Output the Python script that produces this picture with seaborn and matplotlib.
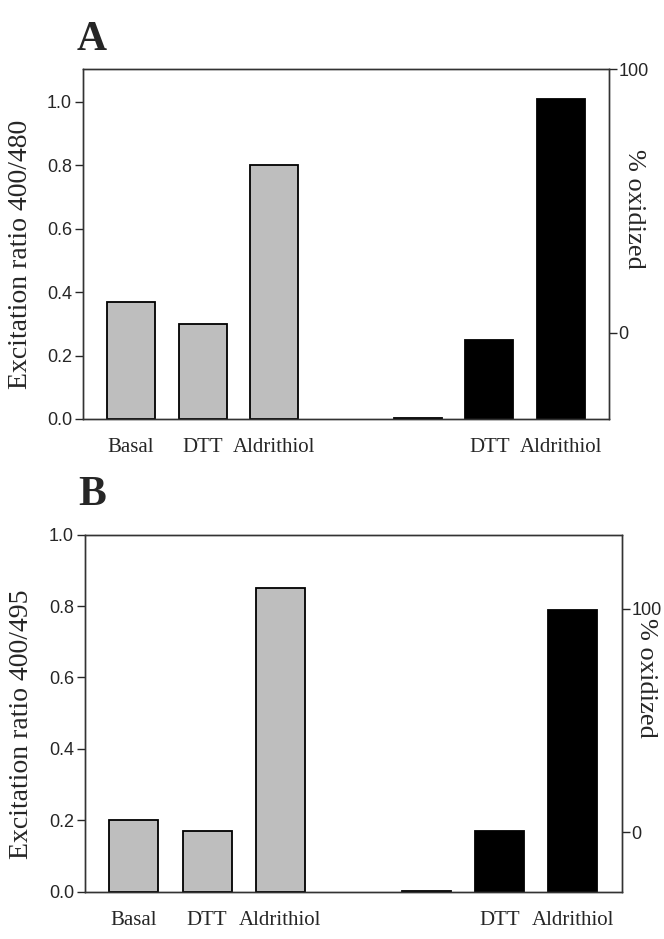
import numpy as np
import pandas as pd
import matplotlib
matplotlib.use("Agg")
import matplotlib.pyplot as plt
import seaborn as sns

# slots along the x axis (one empty gap between the two groups)
slots = ["g_basal", "g_dtt", "g_ald", "gap", "k_zero", "k_dtt", "k_ald"]
slot_labels = ["Basal", "DTT", "Aldrithiol", "", "", "DTT", "Aldrithiol"]
gray_slots = ["g_basal", "g_dtt", "g_ald"]
black_slots = ["k_zero", "k_dtt", "k_ald"]

# panel A values (excitation ratio 400/480)
a_gray = [0.37, 0.30, 0.80]
a_black = [0.004, 0.25, 1.01]
# panel B values (excitation ratio 400/495)
b_gray = [0.20, 0.17, 0.85]
b_black = [0.003, 0.17, 0.79]

sns.set_style("ticks")
plt.rcParams["font.family"] = ["Liberation Serif", "DejaVu Serif"]

fig = plt.figure(figsize=(6.64, 9.39), dpi=100)

def make_df(gray, black):
    return pd.DataFrame({
        "slot": gray_slots + black_slots,
        "value": gray + black,
        "group": ["gray"] * 3 + ["black"] * 3,
    })

def draw_panel(rect, gray, black, ylim, yticks, ylabel, rlim, ylab_x, rlab_x, rlab_y):
    ax = fig.add_axes(rect)
    df = make_df(gray, black)
    sns.barplot(data=df, x="slot", y="value", hue="group", order=slots,
                palette={"gray": "#bebebe", "black": "#000000"}, dodge=False,
                width=0.67, edgecolor="black", linewidth=1.3, legend=False,
                saturation=1, ax=ax)
    ax.set_xlim(-0.67, 6.67)
    ax.set_ylim(*ylim)
    ax.set_yticks(yticks)
    ax.set_yticklabels([f"{t:.1f}" for t in yticks], family="Liberation Sans", fontsize=13)
    ax.set_xticks(range(len(slots)))
    ax.set_xticklabels(slot_labels, fontsize=15)
    ax.tick_params(axis="x", length=0, pad=14)
    ax.tick_params(axis="y", length=6, width=1, direction="out", pad=2)
    ax.set_xlabel("")
    ax.set_ylabel(ylabel, fontsize=20)
    ax.yaxis.set_label_coords(ylab_x, 0.47)
    for s in ax.spines.values():
        s.set_visible(True)
        s.set_color("#333333")
        s.set_linewidth(1.0)

    ax2 = ax.twinx()
    ax2.set_ylim(*rlim)
    ax2.set_yticks([0, 100])
    ax2.set_yticklabels(["0", "100"], family="Liberation Sans", fontsize=13)
    ax2.tick_params(axis="y", length=6, width=1, direction="out", pad=1)
    ax2.set_ylabel("% oxidized", fontsize=19, rotation=270)
    ax2.yaxis.set_label_coords(rlab_x, rlab_y)
    for s in ax2.spines.values():
        s.set_color("#333333")
        s.set_linewidth(1.0)
    return ax

draw_panel([0.125, 0.5538, 0.792, 0.3727], a_gray, a_black, (0, 1.104),
           [0.0, 0.2, 0.4, 0.6, 0.8, 1.0], "Excitation ratio 400/480",
           (-32.6, 100), -0.095, 1.068, 0.6)
draw_panel([0.128, 0.0504, 0.808, 0.3802], b_gray, b_black, (0, 1.0),
           [0.0, 0.2, 0.4, 0.6, 0.8, 1.0], "Excitation ratio 400/495",
           (-26.5, 133), -0.095, 1.067, 0.6)

fig.text(0.116, 0.947, "A", fontsize=30, fontweight="bold")
fig.text(0.118, 0.462, "B", fontsize=30, fontweight="bold")

plt.savefig("out.png", dpi=100)
